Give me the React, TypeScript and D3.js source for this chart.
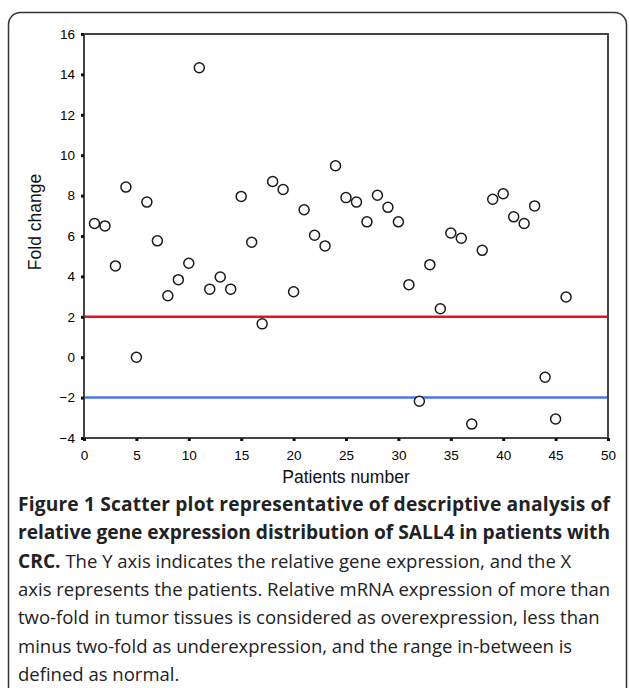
import React, { useEffect, useRef } from 'react';
import * as d3 from 'd3';

// patient index and measured fold change
const patients = d3.range(1, 47);
const foldChange = [
  6.62, 6.5, 4.52, 8.42, 0.0, 7.68, 5.76, 3.04, 3.84, 4.65,
  14.33, 3.37, 3.97, 3.37, 7.96, 5.69, 1.65, 8.7, 8.3, 3.24,
  7.3, 6.04, 5.51, 9.48, 7.9, 7.68, 6.7, 8.02, 7.42, 6.7,
  3.59, -2.18, 4.58, 2.4, 6.15, 5.89, -3.31, 5.29, 7.82, 8.09,
  6.95, 6.62, 7.49, -0.99, -3.06, 2.98,
];
const xTicks = [0, 5, 10, 15, 20, 25, 30, 35, 40, 45, 50];
const yTicks = [-4, -2, 0, 2, 4, 6, 8, 10, 12, 14, 16];
const thresholds = [
  { value: 2, color: '#e8141c' },
  { value: -2, color: '#4a76e8' },
];

// caption lines: [bold part, regular part]
const caption: [string, string][] = [
  ['Figure 1 Scatter plot representative of descriptive analysis of', ''],
  ['relative gene expression distribution of SALL4 in patients with', ''],
  ['CRC.', ' The Y axis indicates the relative gene expression, and the X'],
  ['', 'axis represents the patients. Relative mRNA expression of more than'],
  ['', 'two-fold in tumor tissues is considered as overexpression, less than'],
  ['', 'minus two-fold as underexpression, and the range in-between is'],
  ['', 'defined as normal.'],
];

const W = 629;
const H = 688;
const plot = { left: 84, right: 608, top: 34, bottom: 438 };

const App = () => {
  const ref = useRef<SVGSVGElement>(null);

  useEffect(() => {
    const svg = d3.select(ref.current);
    svg.selectAll('*').remove();

    // figure frame
    svg.append('rect')
      .attr('x', 8.5).attr('y', 12.5)
      .attr('width', 618).attr('height', 700)
      .attr('rx', 12)
      .attr('fill', 'none')
      .attr('stroke', '#333')
      .attr('stroke-width', 1.5);

    const x = d3.scaleLinear().domain([0, 50]).range([plot.left, plot.right]);
    const y = d3.scaleLinear().domain([-4, 16]).range([plot.bottom, plot.top]);

    // plot box
    svg.append('rect')
      .attr('x', plot.left).attr('y', plot.top)
      .attr('width', plot.right - plot.left)
      .attr('height', plot.bottom - plot.top)
      .attr('fill', 'none')
      .attr('stroke', '#444')
      .attr('stroke-width', 2);

    const axisFont = 'Arial, "Liberation Sans", sans-serif';

    const yAxis = svg.append('g')
      .attr('transform', `translate(${plot.left},0)`)
      .call(d3.axisLeft(y).tickValues(yTicks).tickSize(3).tickPadding(6).tickFormat(d3.format('d')));
    yAxis.select('.domain').remove();
    yAxis.selectAll('line').attr('stroke', '#111').attr('stroke-width', 3);
    yAxis.selectAll('text')
      .attr('font-family', axisFont)
      .attr('font-size', 13.5)
      .attr('fill', '#000');

    const xAxis = svg.append('g')
      .attr('transform', `translate(0,${plot.bottom})`)
      .call(d3.axisBottom(x).tickValues(xTicks).tickSize(3).tickPadding(9).tickFormat(d3.format('d')));
    xAxis.select('.domain').remove();
    xAxis.selectAll('line').attr('stroke', '#111').attr('stroke-width', 3);
    xAxis.selectAll('text')
      .attr('font-family', axisFont)
      .attr('font-size', 13.5)
      .attr('fill', '#000');

    // threshold lines
    svg.selectAll('.thr')
      .data(thresholds)
      .enter().append('line')
      .attr('x1', plot.left + 1).attr('x2', plot.right - 1)
      .attr('y1', d => y(d.value)).attr('y2', d => y(d.value))
      .attr('stroke', d => d.color)
      .attr('stroke-width', 2.5);

    // points
    svg.selectAll('.pt')
      .data(patients.map((p, i) => ({ p, v: foldChange[i] })))
      .enter().append('circle')
      .attr('cx', d => x(d.p))
      .attr('cy', d => y(d.v))
      .attr('r', 5)
      .attr('fill', 'white')
      .attr('stroke', '#1a1a1a')
      .attr('stroke-width', 1.5);

    // axis titles
    svg.append('text')
      .attr('x', (plot.left + plot.right) / 2)
      .attr('y', 483)
      .attr('text-anchor', 'middle')
      .attr('font-family', axisFont)
      .attr('font-size', 17.5)
      .attr('fill', '#111')
      .text('Patients number');

    svg.append('text')
      .attr('transform', `translate(41,222) rotate(-90)`)
      .attr('text-anchor', 'middle')
      .attr('font-family', axisFont)
      .attr('font-size', 17.5)
      .attr('fill', '#111')
      .text('Fold change');

    // caption
    const cap = svg.append('g')
      .attr('font-family', '"Open Sans", sans-serif')
      .attr('font-size', 18.5)
      .attr('fill', '#222');
    caption.forEach(([b, r], i) => {
      const t = cap.append('text').attr('x', 18).attr('y', 511 + i * 28.3);
      if (b && !r) {
        // full bold line spans the caption width
        t.attr('font-weight', 'bold').attr('font-size', 19.2)
          .attr('textLength', 592).attr('lengthAdjust', 'spacing').text(b);
        return;
      }
      if (b) t.append('tspan').attr('font-weight', 'bold').attr('font-size', 19.2).text(b);
      if (r) t.append('tspan').text(r);
    });
  }, []);

  return (
    <svg ref={ref} width={W} height={H}
      style={{ position: 'absolute', left: 0, top: 0, background: 'white' }} />
  );
};

export default App;
